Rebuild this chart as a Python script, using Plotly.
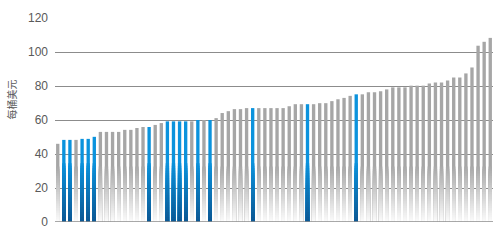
import numpy as np
import plotly.graph_objects as go

# ---- data ----
values = [46.0, 48.3, 48.3, 48.3, 48.9, 48.9, 50.1, 53.0, 53.0, 53.0,
          53.0, 54.2, 54.2, 55.3, 55.9, 55.9, 57.1, 58.2, 59.2, 59.2,
          59.2, 59.2, 59.2, 60.0, 60.0, 60.0, 61.1, 64.1, 65.2, 66.4,
          66.4, 67.0, 67.0, 67.0, 67.0, 67.0, 67.0, 67.0, 68.1, 69.3,
          69.3, 69.3, 69.3, 69.9, 69.9, 71.1, 72.2, 73.0, 74.2, 75.1,
          75.1, 76.3, 76.3, 76.9, 78.0, 79.2, 79.2, 79.2, 80.2, 80.2,
          80.2, 81.5, 82.1, 82.1, 83.3, 85.0, 85.0, 87.4, 90.9, 103.7,
          106.0, 108.3]
categories = list(range(1, len(values) + 1))
highlighted = [2, 3, 5, 6, 7, 16, 19, 20, 21, 22, 24, 26, 33, 42, 50]
y_ticks = [0, 20, 40, 60, 80, 100, 120]
y_title = "每桶美元"

vals = np.array(values)
is_hi = np.array([c in highlighted for c in categories])
x = np.array(categories)


def lerp(c1, c2, t):
    return "rgb(%d,%d,%d)" % tuple(round(a + (b - a) * t) for a, b in zip(c1, c2))


fig = go.Figure()
N = 24
BAR_W = 0.55
groups = [
    (~is_hi, (166, 166, 166), (250, 250, 250), 34.0),
    (is_hi, (11, 147, 221), (12, 88, 148), 36.0),
]
for mask, top_c, bot_c, G in groups:
    xs = x[mask]
    vs = vals[mask]
    fig.add_trace(go.Bar(x=xs, y=vs, marker=dict(color=lerp(top_c, bot_c, 0), line=dict(width=0)),
                         width=BAR_W, hoverinfo="skip", showlegend=False))
    for k in range(1, N + 1):
        t = G * (1 - k / (N + 1))
        frac = k / N
        fig.add_trace(go.Bar(x=xs, y=np.minimum(vs, t),
                             marker=dict(color=lerp(top_c, bot_c, frac), line=dict(width=0)),
                             width=BAR_W, hoverinfo="skip", showlegend=False))

fig.update_layout(
    width=504, height=240,
    margin=dict(l=55, r=11, t=18, b=16),
    paper_bgcolor="white", plot_bgcolor="white",
    barmode="overlay",
    bargap=0.45,
    showlegend=False,
    font=dict(family="Liberation Sans, Arial, sans-serif", color="#595959", size=12),
    xaxis=dict(range=[0.55, len(values) + 0.45], showticklabels=False, showgrid=False,
               zeroline=False, showline=False, ticks=""),
    yaxis=dict(range=[0, 120], tickvals=y_ticks, showgrid=True, gridcolor="#8c8c8c",
               gridwidth=1.3, zeroline=False, showline=False, ticks="",
               tickfont=dict(size=12, color="#595959"), ticklabelstandoff=6),
    annotations=[dict(text=y_title, xref="paper", yref="paper", x=-43 / 438, y=0.6,
                      xanchor="center", yanchor="middle", textangle=-90, showarrow=False,
                      font=dict(family="Noto Sans CJK SC", size=10, color="#595959"))],
)
fig.add_hline(y=0, line=dict(color="#8c8c8c", width=1.5), layer="above")

fig.write_html("out.html")
